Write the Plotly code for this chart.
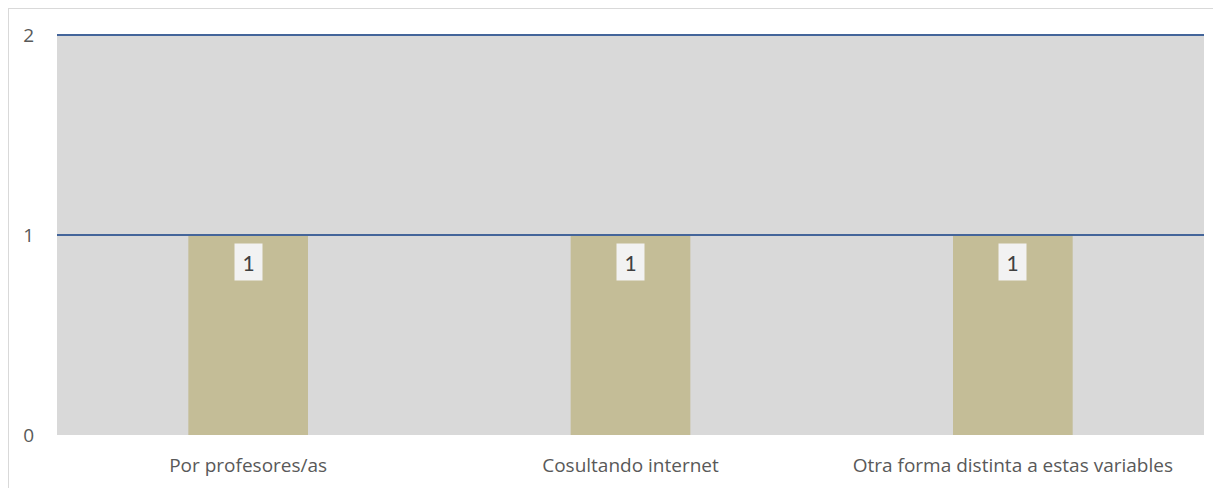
import plotly.graph_objects as go

categories = ["Por profesores/as", "Cosultando internet", "Otra forma distinta a estas variables"]
values = [1, 1, 1]
y_ticks = [0, 1, 2]

# page body has an 8px default margin; compensate so the plot lands where the reference has it
OFF = 8
W, H = 1221 - OFF, 488 - OFF
ml, mt = 57 - OFF, 35 - OFF
mr = W - (1204 - OFF)
mb = H - (435 - OFF)
pw, ph = W - ml - mr, H - mt - mb

FONT = "Open Sans, Liberation Sans, sans-serif"
LFONT = "Lato, Open Sans, sans-serif"
y_min, y_max = y_ticks[0], y_ticks[-1]

fig = go.Figure()
fig.add_trace(go.Bar(
    x=categories, y=values,
    marker=dict(color="#C4BD97", line=dict(width=0)),
    width=0.313,
    hoverinfo="skip",
))

for c, v in zip(categories, values):
    fig.add_annotation(
        x=c, y=v, xref="x", yref="y", text=str(v),
        showarrow=False, yanchor="top", yshift=-8,
        bgcolor="#F2F2F2", borderpad=0, width=27, height=36,
        font=dict(family=LFONT, size=21, color="#404040"),
    )

# gridlines drawn on top (unclipped so the top one shows fully)
for t in y_ticks[1:]:
    yp = (t - y_min) / (y_max - y_min)
    fig.add_shape(type="line", xref="paper", yref="paper", x0=0, x1=1, y0=yp, y1=yp,
                  line=dict(color="#44659A", width=2), layer="above")

# outer chart border
fig.add_shape(type="rect", xref="paper", yref="paper",
              x0=(8 - OFF - ml) / pw, x1=(W + 20 - ml) / pw,
              y0=-(H + 20 - mt - ph) / ph, y1=1 + (mt - (8 - OFF)) / ph,
              line=dict(color="#D9D9D9", width=2), fillcolor="rgba(0,0,0,0)", layer="below")

fig.update_layout(
    width=W, height=H,
    margin=dict(l=ml, r=mr, t=mt, b=mb, autoexpand=False),
    paper_bgcolor="white", plot_bgcolor="#D9D9D9",
    showlegend=False,
    font=dict(family=FONT, size=19, color="#595959"),
    xaxis=dict(showgrid=False, showline=False, zeroline=False, ticks="", tickfont=dict(size=19),
               ticklabelstandoff=17, automargin=False),
    yaxis=dict(range=[y_min, y_max], tickvals=y_ticks, showgrid=False,
               zeroline=False, showline=False, automargin=False,
               ticks="", tickfont=dict(size=19), ticklabelstandoff=22),
)

fig.write_html("out.html")
